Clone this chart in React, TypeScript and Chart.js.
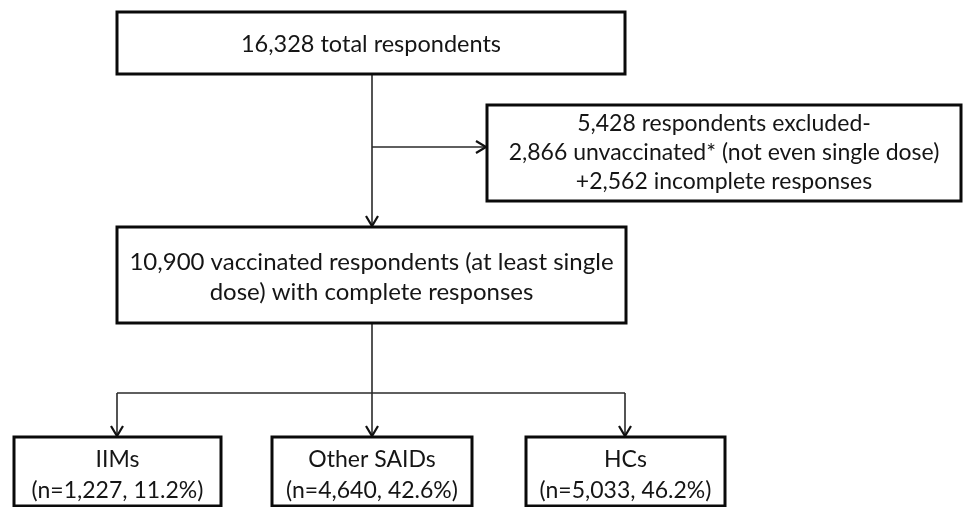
import React, { useEffect, useRef } from "react";
import { Chart, registerables } from "chart.js";

Chart.register(...registerables);

// ---- data ----
const totalRespondents = 16328;
const excludedTotal = 5428;
const unvaccinated = 2866;
const incomplete = 2562;
const vaccinated = 10900;
const groupNames = ["IIMs", "Other SAIDs", "HCs"];
const groupCounts = [1227, 4640, 5033];
const groupPercents = [11.2, 42.6, 46.2];

const fmt = (n: number) => n.toLocaleString("en-US");

// ---- layout (data units, x: 0..964, y: 0..507 top-down) ----
const boxTop = { x0: 117, x1: 625, y0: 12, y1: 74 };
const boxExcl = { x0: 487, x1: 961, y0: 105, y1: 201 };
const boxMid = { x0: 117, x1: 626, y0: 227, y1: 323 };
const boxGroups = [
  { x0: 14, x1: 221, y0: 437, y1: 506 },
  { x0: 272, x1: 472, y0: 437, y1: 506 },
  { x0: 526, x1: 725, y0: 437, y1: 506 },
];
const trunkX = 372;
const branchY = 147;
const splitY = 393;
const groupArrowX = [117, 372, 625];

export default function App() {
  const ref = useRef<HTMLCanvasElement | null>(null);
  useEffect(() => {
    document.body.style.margin = "0";
    const canvas = ref.current!;
    const flowPlugin = {
      id: "flow",
      afterDraw(chart: any) {
        const ctx = chart.ctx as CanvasRenderingContext2D;
        const X = (v: number) => chart.scales.x.getPixelForValue(v);
        const Y = (v: number) => chart.scales.y.getPixelForValue(v);
        ctx.save();
        ctx.fillStyle = "#fff";
        ctx.fillRect(0, 0, chart.width, chart.height);

        const drawBox = (b: any, lines: string[], lineGap: number, size: number, dy: number) => {
          ctx.lineWidth = 3;
          ctx.strokeStyle = "#0a0a0a";
          ctx.strokeRect(X(b.x0), Y(b.y0), X(b.x1) - X(b.x0), Y(b.y1) - Y(b.y0));
          ctx.fillStyle = "#151515";
          ctx.font = `${size}px Lato, "Open Sans", sans-serif`;
          ctx.textAlign = "center";
          ctx.textBaseline = "middle";
          const cx = (X(b.x0) + X(b.x1)) / 2;
          const cy = (Y(b.y0) + Y(b.y1)) / 2 + dy;
          const start = cy - ((lines.length - 1) * lineGap) / 2;
          lines.forEach((t, i) => ctx.fillText(t, cx, start + i * lineGap));
        };
        const line = (x0: number, y0: number, x1: number, y1: number) => {
          ctx.lineWidth = 1.6;
          ctx.strokeStyle = "#2a2a2a";
          ctx.beginPath();
          ctx.moveTo(X(x0), Y(y0));
          ctx.lineTo(X(x1), Y(y1));
          ctx.stroke();
        };
        const arrowDown = (x: number, y: number) => {
          ctx.lineWidth = 2.2;
          ctx.strokeStyle = "#111";
          ctx.beginPath();
          ctx.moveTo(X(x) - 6, Y(y) - 11);
          ctx.lineTo(X(x), Y(y) - 1);
          ctx.lineTo(X(x) + 6, Y(y) - 11);
          ctx.stroke();
        };
        const arrowRight = (x: number, y: number) => {
          ctx.lineWidth = 2.2;
          ctx.strokeStyle = "#111";
          ctx.beginPath();
          ctx.moveTo(X(x) - 11, Y(y) - 6);
          ctx.lineTo(X(x) - 1, Y(y));
          ctx.lineTo(X(x) - 11, Y(y) + 6);
          ctx.stroke();
        };

        // connectors
        line(trunkX, boxTop.y1, trunkX, boxMid.y0 - 1);
        arrowDown(trunkX, boxMid.y0);
        line(trunkX, branchY, boxExcl.x0 - 1, branchY);
        arrowRight(boxExcl.x0, branchY);
        line(trunkX, boxMid.y1, trunkX, splitY);
        line(groupArrowX[0], splitY, groupArrowX[2], splitY);
        groupArrowX.forEach((gx, i) => {
          line(gx, splitY, gx, boxGroups[i].y0 - 1);
          arrowDown(gx, boxGroups[i].y0);
        });

        // boxes
        drawBox(boxTop, [`${fmt(totalRespondents)} total respondents`], 0, 23.5, 1);
        drawBox(
          boxExcl,
          [
            `${fmt(excludedTotal)} respondents excluded-`,
            `${fmt(unvaccinated)} unvaccinated* (not even single dose)`,
            `+${fmt(incomplete)} incomplete responses`,
          ],
          29,
          23,
          0
        );
        drawBox(
          boxMid,
          [
            `${fmt(vaccinated)} vaccinated respondents (at least single`,
            `dose) with complete responses`,
          ],
          30,
          24,
          2
        );
        boxGroups.forEach((b, i) =>
          drawBox(
            b,
            [groupNames[i], `(n=${fmt(groupCounts[i])}, ${groupPercents[i].toFixed(1)}%)`],
            31,
            23,
            4
          )
        );
        ctx.restore();
      },
    };
    const chart = new Chart(canvas, {
      type: "scatter",
      data: { datasets: [{ data: [], pointRadius: 0 }] },
      options: {
        animation: false,
        responsive: true,
        maintainAspectRatio: false,
        layout: { padding: 0 },
        plugins: { legend: { display: false }, tooltip: { enabled: false } },
        scales: {
          x: { type: "linear", min: 0, max: 964, display: false },
          y: { type: "linear", min: 0, max: 507, reverse: true, display: false },
        },
      },
      plugins: [flowPlugin],
    });
    return () => chart.destroy();
  }, []);
  return (
    <div style={{ position: "absolute", left: 0, top: 0, width: 964, height: 507, background: "#fff" }}>
      <canvas ref={ref} />
    </div>
  );
}
